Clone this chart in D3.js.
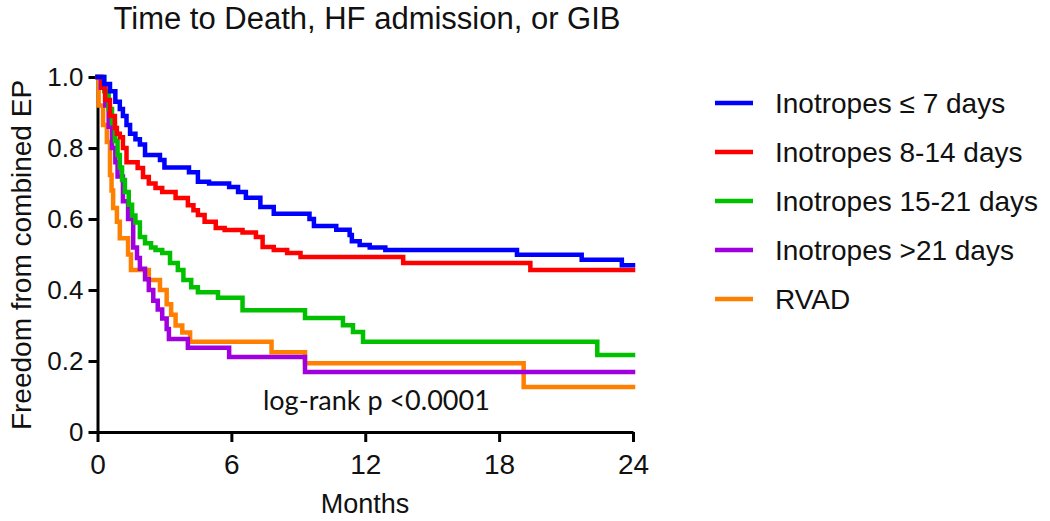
<!DOCTYPE html>
<html>
<head>
<meta charset="utf-8">
<script src="https://cdn.jsdelivr.net/npm/d3@7"></script>
<style>
  html, body { margin: 0; padding: 0; background: #fff; }
  svg { display: block; }
</style>
</head>
<body>
<svg id="chart" width="1050" height="521"></svg>
<script>
// ---- Data ----
const seriesNames = ["Inotropes \u2264 7 days", "Inotropes 8-14 days", "Inotropes 15-21 days", "Inotropes >21 days", "RVAD"];
const seriesColors = ["#0000ff", "#ff0000", "#00c000", "#a000e0", "#ff8000"];

const blueT = [0, 0.3, 0.56, 0.8, 1.0, 1.14, 1.3, 1.46, 1.7, 1.9, 2.13, 2.8, 3.0, 4.1, 4.5, 5.0, 5.9, 6.3, 6.65, 7.3, 7.9, 9.5, 9.7, 10.7, 11.3, 11.4, 11.75, 12.2, 12.9, 18.8, 21.7, 23.5];
const blueS = [1.0, 0.98, 0.96, 0.93, 0.91, 0.89, 0.865, 0.84, 0.825, 0.81, 0.78, 0.766, 0.745, 0.732, 0.705, 0.70, 0.69, 0.676, 0.66, 0.634, 0.615, 0.60, 0.58, 0.57, 0.555, 0.537, 0.527, 0.52, 0.513, 0.499, 0.485, 0.47];

const redT = [0, 0.2, 0.34, 0.56, 0.78, 0.87, 1.0, 1.14, 1.3, 1.8, 2.04, 2.3, 2.6, 2.9, 3.5, 4.05, 4.3, 4.5, 4.8, 5.3, 5.7, 6.5, 7.1, 7.4, 7.9, 8.5, 9.1, 13.7, 19.4];
const redS = [1.0, 0.97, 0.935, 0.89, 0.856, 0.84, 0.83, 0.80, 0.76, 0.744, 0.718, 0.70, 0.687, 0.676, 0.659, 0.639, 0.625, 0.611, 0.592, 0.575, 0.569, 0.562, 0.549, 0.521, 0.513, 0.504, 0.493, 0.476, 0.456];

const greenT = [0, 0.3, 0.5, 0.65, 0.78, 0.9, 1.0, 1.1, 1.23, 1.4, 1.55, 1.7, 1.9, 2.13, 2.4, 2.6, 2.9, 3.25, 3.6, 3.85, 4.2, 4.5, 5.4, 6.5, 9.3, 11.0, 11.45, 11.9, 22.4];
const greenS = [1.0, 0.96, 0.91, 0.87, 0.82, 0.78, 0.745, 0.71, 0.676, 0.64, 0.61, 0.59, 0.549, 0.532, 0.52, 0.513, 0.504, 0.476, 0.456, 0.428, 0.408, 0.394, 0.378, 0.343, 0.321, 0.301, 0.282, 0.254, 0.217];

const purpleT = [0, 0.15, 0.35, 0.5, 0.65, 0.8, 0.9, 1.14, 1.37, 1.6, 1.77, 1.9, 2.13, 2.3, 2.5, 2.7, 2.9, 3.1, 3.2, 4.05, 5.9, 9.3];
const purpleS = [1.0, 0.97, 0.92, 0.86, 0.80, 0.76, 0.72, 0.65, 0.60, 0.52, 0.49, 0.46, 0.43, 0.40, 0.37, 0.345, 0.32, 0.29, 0.262, 0.237, 0.211, 0.169];

const orangeT = [0, 0.05, 0.25, 0.42, 0.56, 0.63, 0.7, 0.87, 1.0, 1.37, 1.5, 2.3, 2.8, 3.1, 3.3, 3.5, 3.8, 4.15, 7.8, 9.3, 19.1];
const orangeS = [1.0, 0.92, 0.865, 0.817, 0.724, 0.68, 0.631, 0.592, 0.546, 0.50, 0.456, 0.428, 0.40, 0.36, 0.33, 0.30, 0.28, 0.254, 0.225, 0.194, 0.127];

const xTicks = [0, 6, 12, 18, 24];
const yTicks = [0, 0.2, 0.4, 0.6, 0.8, 1.0];
const maxMonths = 24;

// ---- Build series ----
const allT = [blueT, redT, greenT, purpleT, orangeT];
const allS = [blueS, redS, greenS, purpleS, orangeS];
const series = seriesNames.map((name, i) => {
  const pts = allT[i].map((t, j) => ({ t: t, s: allS[i][j] }));
  pts.push({ t: maxMonths, s: allS[i][allS[i].length - 1] });
  return { name: name, color: seriesColors[i], pts: pts };
});

// ---- Scales ----
const svg = d3.select("#chart");
const x = d3.scaleLinear().domain([0, maxMonths]).range([97.5, 633]);
const y = d3.scaleLinear().domain([0, 1]).range([432, 77]);

// ---- Axes ----
const yAxis = d3.axisLeft(y).tickValues(yTicks)
  .tickFormat(d => d === 0 ? "0" : d.toFixed(1))
  .tickSize(9).tickSizeOuter(0).tickPadding(5);
const gy = svg.append("g").attr("transform", `translate(${x(0)},0)`).call(yAxis);
gy.selectAll(".domain").attr("stroke", "#000").attr("stroke-width", 3);
gy.selectAll(".tick line").attr("stroke", "#000").attr("stroke-width", 3);
gy.selectAll(".tick text").attr("fill", "#111")
  .style("font-family", "'Liberation Sans', Arial, sans-serif").style("font-size", "26px");

const xAxis = d3.axisBottom(x).tickValues(xTicks).tickSize(10).tickSizeOuter(0).tickPadding(12);
const gx = svg.append("g").attr("transform", `translate(0,${y(0)})`).call(xAxis);
gx.selectAll(".domain").attr("stroke", "#000").attr("stroke-width", 3);
gx.selectAll(".tick line").attr("stroke", "#000").attr("stroke-width", 3);
gx.selectAll(".tick text").attr("fill", "#111")
  .style("font-family", "'Liberation Sans', Arial, sans-serif").style("font-size", "28px");

// ---- Curves ----
const line = d3.line().x(d => x(d.t)).y(d => y(d.s)).curve(d3.curveStepAfter);
svg.append("g").selectAll("path")
  .data(series.slice().reverse())
  .join("path")
  .attr("d", d => line(d.pts))
  .attr("fill", "none")
  .attr("stroke", d => d.color)
  .attr("stroke-width", 4.5)
  .attr("stroke-linejoin", "miter")
  .attr("stroke-linecap", "square");

// ---- Texts ----
svg.append("text")
  .attr("x", 367).attr("y", 29)
  .attr("text-anchor", "middle")
  .style("font-family", "'Liberation Sans', Arial, sans-serif")
  .style("font-size", "31px").attr("fill", "#111")
  .text("Time to Death, HF admission, or GIB");

svg.append("text")
  .attr("transform", "translate(31,255) rotate(-90)")
  .attr("text-anchor", "middle")
  .style("font-family", "'Liberation Sans', Arial, sans-serif")
  .style("font-size", "28px").attr("fill", "#111")
  .text("Freedom from combined EP");

svg.append("text")
  .attr("x", 365).attr("y", 513)
  .attr("text-anchor", "middle")
  .style("font-family", "'Liberation Sans', Arial, sans-serif")
  .style("font-size", "27px").attr("fill", "#111")
  .text("Months");

svg.append("text")
  .attr("x", 263).attr("y", 410)
  .style("font-family", "Lato, 'Liberation Sans', sans-serif")
  .style("font-size", "27px").attr("fill", "#111")
  .text("log-rank p <0.0001");

// ---- Legend ----
const legend = svg.append("g");
const rowY = i => 103 + i * 49;
legend.selectAll("line").data(series).join("line")
  .attr("x1", 715).attr("x2", 753)
  .attr("y1", (d, i) => rowY(i)).attr("y2", (d, i) => rowY(i))
  .attr("stroke", d => d.color).attr("stroke-width", 4.5);
legend.selectAll("text").data(series).join("text")
  .attr("x", 775).attr("y", (d, i) => rowY(i)).attr("dy", "0.36em")
  .style("font-family", "'Liberation Sans', Arial, sans-serif")
  .style("font-size", "28px").attr("fill", "#111")
  .text(d => d.name);
</script>
</body>
</html>
